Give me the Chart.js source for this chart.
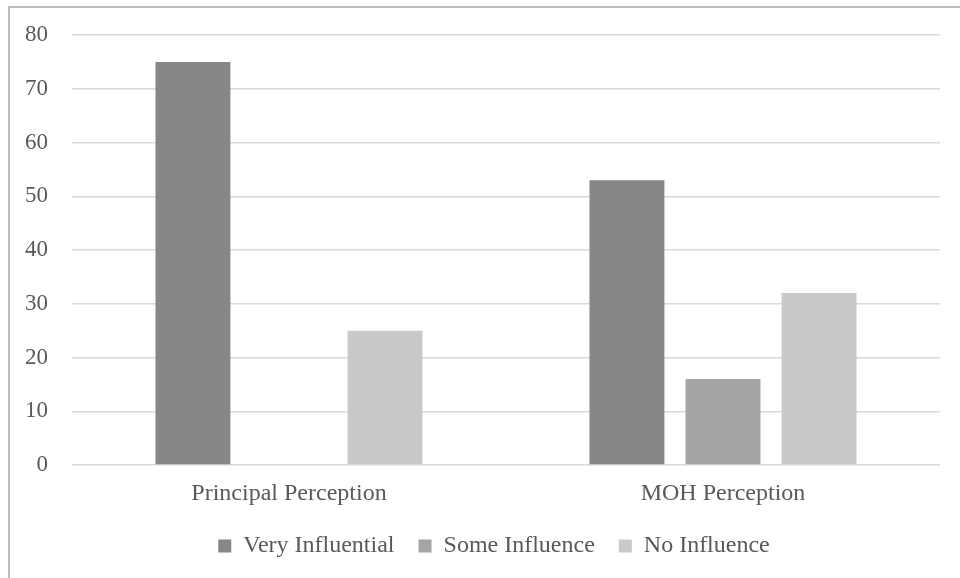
<!DOCTYPE html>
<html>
<head>
<meta charset="utf-8">
<script src="https://cdn.jsdelivr.net/npm/chart.js@4.4.0/dist/chart.umd.min.js"></script>
<style>
  html, body { margin: 0; padding: 0; background: #fff; overflow: hidden; }
  #frame { position: absolute; left: 8px; top: 6px; width: 980px; height: 600px;
           border-left: 2px solid #bdbdbd; border-top: 2px solid #bdbdbd; }
  #wrap { position: absolute; left: 0; top: 0; width: 960px; height: 578px; }
</style>
</head>
<body>
<div id="frame"></div>
<div id="wrap"><canvas id="perceptionChart" width="960" height="578"></canvas></div>
<script>
const categories = ['Principal Perception', 'MOH Perception'];
const veryInfluential = [75, 53];
const someInfluence = [0, 16];
const noInfluence = [25, 32];
const yTicks = [0, 10, 20, 30, 40, 50, 60, 70, 80];

const textColor = '#595959';
const serif = "'Liberation Serif', 'Times New Roman', serif";

// nudge the legend a little left, like the original
const legendShift = {
  id: 'legendShift',
  afterLayout(chart) {
    chart.legend.left -= 12;
    chart.legend.right -= 12;
  }
};

const ctx = document.getElementById('perceptionChart').getContext('2d');
new Chart(ctx, {
  type: 'bar',
  data: {
    labels: categories,
    datasets: [
      { label: 'Very Influential', data: veryInfluential, backgroundColor: '#878787' },
      { label: 'Some Influence', data: someInfluence, backgroundColor: '#a5a5a5' },
      { label: 'No Influence', data: noInfluence, backgroundColor: '#c9c9c9' }
    ]
  },
  plugins: [legendShift],
  options: {
    responsive: false,
    animation: false,
    datasets: {
      bar: { barPercentage: 0.78, categoryPercentage: 0.664 }
    },
    layout: { padding: { top: 35, right: 20, bottom: 10, left: 0 } },
    plugins: {
      tooltip: { enabled: false },
      legend: {
        position: 'bottom',
        fullSize: false,
        labels: {
          color: textColor,
          font: { family: serif, size: 24 },
          boxWidth: 13,
          boxHeight: 13,
          padding: 24
        }
      }
    },
    scales: {
      x: {
        grid: { display: false, drawTicks: false },
        border: { display: false },
        ticks: { color: textColor, font: { family: serif, size: 24 }, padding: 14 },
        afterFit: (scale) => { scale.height = 45; }
      },
      y: {
        min: 0,
        max: 80,
        afterBuildTicks: (scale) => { scale.ticks = yTicks.map(v => ({ value: v })); },
        grid: { color: '#d9d9d9', lineWidth: 1.5, drawTicks: false },
        border: { display: false },
        ticks: { color: textColor, font: { family: serif, size: 23 }, padding: 24 },
        afterFit: (scale) => {
          scale.width = 72;
          scale.paddingTop = 0;
          scale.paddingBottom = 0;
        }
      }
    }
  }
});
</script>
</body>
</html>
